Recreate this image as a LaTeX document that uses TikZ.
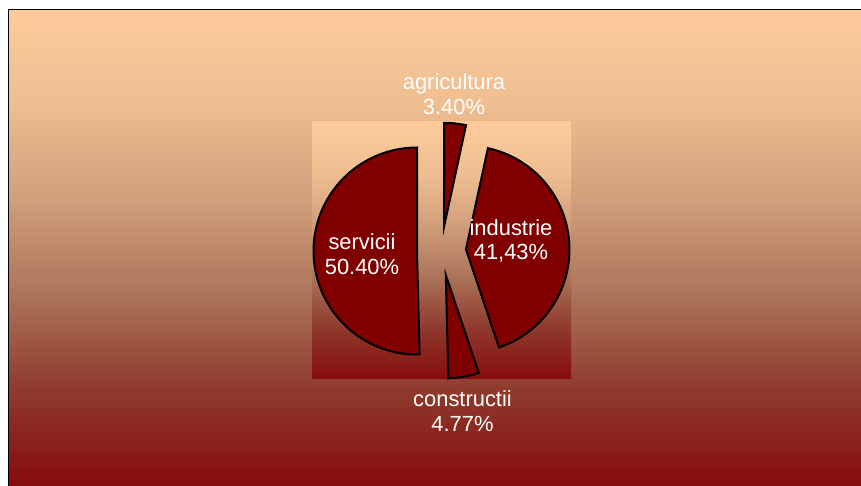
\documentclass[tikz,border=0pt]{standalone}
\usepackage{fontspec}
\setmainfont{Liberation Sans}
\usepackage{tikz}
\usetikzlibrary{calc}

\definecolor{shA}{RGB}{135,12,12}
\definecolor{shB}{RGB}{142,58,44}
\definecolor{shC}{RGB}{172,115,90}
\definecolor{shD}{RGB}{208,158,122}
\definecolor{shE}{RGB}{238,190,145}
\definecolor{shF}{RGB}{253,203,155}
\definecolor{slicered}{RGB}{128,0,0}
\pgfdeclareverticalshading{peachred}{100bp}{color(0bp)=(shA); color(25bp)=(shA); color(35bp)=(shB); color(45bp)=(shC); color(55bp)=(shD); color(65bp)=(shE); color(75bp)=(shF); color(100bp)=(shF)}

\begin{document}
\begin{tikzpicture}[x=1pt,y=1pt,
    slice/.style={fill=slicered, draw=black, line width=2pt, line join=miter},
    pielabel/.style={text=white, align=center, inner sep=0pt,
        font=\fontsize{21.9}{24.5}\selectfont}]
        \useasboundingbox (0,0) rectangle (861,486);
        % background and plot area
        \shade[shading=peachred] (9,0) rectangle (861,476.5);
        \draw[line width=1pt] (8.5,-5) -- (8.5,476.5) -- (870,476.5);
        \shade[shading=peachred] (312,107) rectangle (571,364);
        % slices
        \coordinate (ctr) at (441.5,235.3);
        \draw[slice] ($(ctr)+(83.88:24.5pt)$) coordinate (agriTip) -- ++(90:103.5pt)
            arc[start angle=90, end angle=77.76, radius=103.5pt] -- cycle;
        \draw[slice] ($(ctr)+(3.185:24.5pt)$) coordinate (indTip) -- ++(77.76:103.5pt)
            arc[start angle=77.76, end angle=-71.39, radius=103.5pt] -- cycle;
        \draw[slice] ($(ctr)+(-79.975:24.5pt)$) coordinate (constrTip) -- ++(-71.39:103.5pt)
            arc[start angle=-71.39, end angle=-88.56, radius=103.5pt] -- cycle;
        \draw[slice] ($(ctr)+(180.72:24.5pt)$) coordinate (servTip) -- ++(-88.56:103.5pt)
            arc[start angle=-88.56, end angle=-270, radius=103.5pt] -- cycle;
        % labels
        \node[pielabel] (agriLabel) at (454,392) {agricultura\\3.40\%};
        \node[pielabel] (indLabel) at (511,245) {industrie\\41,43\%};
        \node[pielabel] (servLabel) at (362,232) {servicii\\50.40\%};
        \node[pielabel] (constrLabel) at (462.5,75) {constructii\\4.77\%};
\end{tikzpicture}
\end{document}
